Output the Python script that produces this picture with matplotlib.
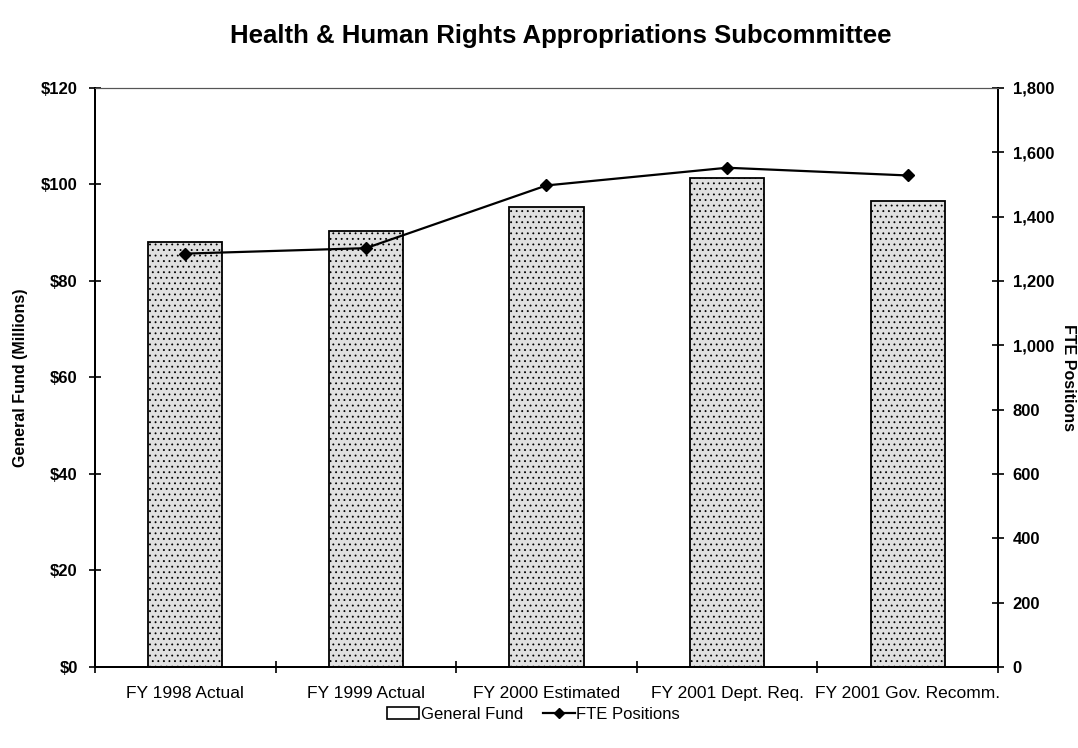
import numpy as np
import matplotlib.pyplot as plt
from matplotlib.patches import Patch
from matplotlib.ticker import FuncFormatter

plt.rcParams['font.family'] = ['Liberation Sans', 'DejaVu Sans']
plt.rcParams['hatch.color'] = '#a4a4a4'
plt.rcParams['hatch.linewidth'] = 0.6

categories = ['FY 1998 Actual', 'FY 1999 Actual', 'FY 2000 Estimated',
              'FY 2001 Dept. Req.', 'FY 2001 Gov. Recomm.']
general_fund = [88.1, 90.4, 95.3, 101.3, 96.6]   # $ millions
fte_positions = [1285, 1302, 1497, 1552, 1528]

fig = plt.figure(figsize=(10.78, 7.48), dpi=100)
ax = fig.add_axes([0.0881, 0.1083, 0.8377, 0.7741])
ax2 = ax.twinx()

x = np.arange(len(categories))
ax.bar(x, general_fund, width=0.41, color='#e0e0e0', edgecolor='black',
       linewidth=1.3, hatch='...', zorder=2)
ax2.plot(x, fte_positions, color='black', linewidth=1.6, marker='D',
         markersize=6)

ax.set_xlim(-0.5, len(categories) - 0.5)
ax.set_ylim(0, 120)
ax.set_yticks(np.arange(0, 121, 20))
ax.yaxis.set_major_formatter(FuncFormatter(lambda v, p: '${:.0f}'.format(v)))
ax2.set_ylim(0, 1800)
ax2.set_yticks(np.arange(0, 1801, 200))
ax2.yaxis.set_major_formatter(FuncFormatter(lambda v, p: '{:,.0f}'.format(v)))

# category labels centred, tick marks on the boundaries
ax.set_xticks(x)
ax.set_xticklabels(categories, fontsize=12.5)
ax.tick_params(axis='x', which='major', length=0, pad=14)
ax.set_xticks(np.arange(-0.5, len(categories)), minor=True)
ax.tick_params(axis='x', which='minor', direction='inout', length=8, width=1.2)

ax.tick_params(axis='y', direction='inout', length=9, width=1.2, labelsize=12, pad=8)
ax2.tick_params(axis='y', direction='inout', length=9, width=1.2, labelsize=12, pad=6)
for lbl in ax.get_yticklabels() + ax2.get_yticklabels():
    lbl.set_fontweight('bold')

for a in (ax, ax2):
    a.spines['left'].set_linewidth(1.4)
    a.spines['right'].set_linewidth(1.4)
    a.spines['bottom'].set_linewidth(1.4)
    a.spines['top'].set_linewidth(0.8)
    a.spines['top'].set_color('#555555')

ax.set_ylabel('General Fund (Millions)', fontsize=11.5, fontweight='bold', labelpad=9)
ax2.set_ylabel('FTE Positions', fontsize=11.5, fontweight='bold', rotation=-90, labelpad=16)

fig.suptitle('Health & Human Rights Appropriations Subcommittee',
             fontsize=18.5, fontweight='bold', x=0.52, y=0.968)

handles = [Patch(facecolor='white', edgecolor='black', linewidth=1.2),
           plt.Line2D([], [], color='black', linewidth=1.6, marker='D', markersize=5)]
fig.legend(handles, ['General Fund', 'FTE Positions'], loc='center',
           bbox_to_anchor=(0.495, 0.045), ncol=2, frameon=False, fontsize=12,
           handlelength=1.9, columnspacing=1.2, handletextpad=0.1)

fig.savefig('out.png', dpi=100)
